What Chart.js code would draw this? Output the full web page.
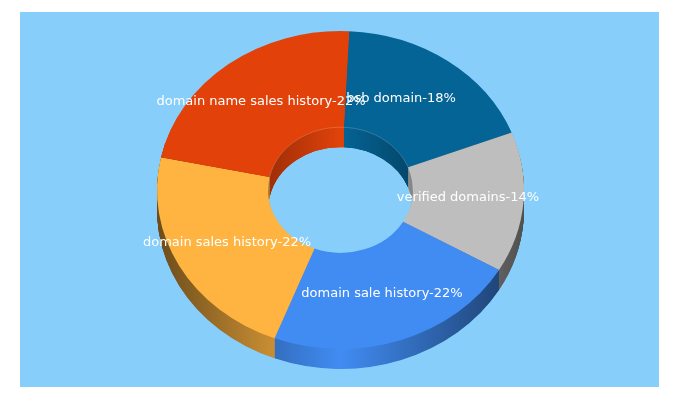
<!DOCTYPE html>
<html>
<head>
<meta charset="utf-8">
<title>Domain keywords</title>
<style>
  html, body { margin: 0; padding: 0; background: #fff; }
  canvas { display: block; }
</style>
<script src="https://cdn.jsdelivr.net/npm/chart.js@4/dist/chart.umd.min.js"></script>
</head>
<body>
<div style="width:680px;height:400px"><canvas id="donut" width="680" height="400"></canvas></div>
<script>
const categories = ['bsb domain', 'verified domains', 'domain sale history', 'domain sales history', 'domain name sales history'];
const shares = [18, 14, 22, 22, 22];
const sliceRgb = [[5, 100, 150], [190, 190, 190], [65, 140, 243], [255, 180, 65], [226, 66, 10]];
// middle of each label on the page
const labelSpots = [[401, 99], [468, 198], [382, 294], [227, 243], [261, 102]];

const TILT = 0.866;   // height / width of the ring on screen
const DEPTH = 20;     // wall height
const OUTER = 183.5;
const INNER = 72.5;

function shade(rgb, k) {
  return 'rgb(' + rgb.map((c) => Math.round(c * k)).join(',') + ')';
}

// walls darken towards the sides, brightest in the middle
function wallGradient(ctx, cx, r, rgb, edge) {
  const g = ctx.createLinearGradient(cx - r, 0, cx + r, 0);
  g.addColorStop(0, shade(rgb, edge));
  g.addColorStop(0.5, shade(rgb, 1));
  g.addColorStop(1, shade(rgb, edge));
  return g;
}

function tilt(ctx, cy, shift) {
  ctx.translate(0, cy + shift);
  ctx.scale(1, TILT);
  ctx.translate(0, -cy);
}

function drawWall(chart, r, edge) {
  const ctx = chart.ctx;
  const arcs = chart.getDatasetMeta(0).data;
  for (let d = DEPTH; d >= 1; d -= 0.5) {
    arcs.forEach((arc, i) => {
      const copy = Object.create(arc);
      copy.options = Object.assign({}, arc.options, {
        backgroundColor: wallGradient(ctx, arc.x, r, sliceRgb[i], edge),
        borderWidth: 0
      });
      ctx.save();
      tilt(ctx, arc.y, d);
      arc.constructor.prototype.draw.call(copy, ctx);
      ctx.restore();
    });
  }
}

const ring3d = {
  id: 'ring3d',
  beforeDraw(chart) {
    const ctx = chart.ctx;
    ctx.save();
    ctx.fillStyle = '#87cefa';
    ctx.fillRect(20, 12, 639, 375);
    ctx.restore();
  },
  beforeDatasetsDraw(chart) {
    const ctx = chart.ctx;
    const first = chart.getDatasetMeta(0).data[0];
    drawWall(chart, OUTER, 0.42);

    // inside of the hole gets its own shading
    ctx.save();
    ctx.beginPath();
    ctx.ellipse(first.x, first.y, INNER, INNER * TILT, 0, 0, Math.PI * 2);
    ctx.clip();
    drawWall(chart, INNER, 0.7);
    ctx.restore();

    ctx.save();
    tilt(ctx, first.y, 0);
  },
  afterDatasetsDraw(chart) {
    const ctx = chart.ctx;
    ctx.restore();
    const first = chart.getDatasetMeta(0).data[0];
    // thin light rim on the hole edge
    ctx.save();
    ctx.strokeStyle = 'rgba(255,255,255,0.18)';
    ctx.lineWidth = 1;
    ctx.beginPath();
    ctx.ellipse(first.x, first.y, INNER, INNER * TILT, 0, Math.PI, Math.PI * 2);
    ctx.stroke();
    ctx.restore();
  },
  afterDraw(chart) {
    const ctx = chart.ctx;
    ctx.save();
    ctx.fillStyle = '#fff';
    ctx.font = '13px "DejaVu Sans"';
    ctx.textAlign = 'center';
    ctx.textBaseline = 'middle';
    categories.forEach((name, i) => {
      ctx.fillText(name + '-' + shares[i] + '%', labelSpots[i][0], labelSpots[i][1]);
    });
    ctx.restore();
  }
};

new Chart(document.getElementById('donut'), {
  type: 'doughnut',
  data: {
    labels: categories,
    datasets: [{
      data: shares,
      backgroundColor: sliceRgb.map((c) => shade(c, 1)),
      borderWidth: 0,
      clip: false
    }]
  },
  options: {
    responsive: false,
    animation: false,
    rotation: 2.7,
    radius: OUTER,
    cutout: (INNER / OUTER * 100) + '%',
    layout: { padding: { left: 1, bottom: 20 } },
    events: [],
    plugins: { legend: { display: false }, tooltip: { enabled: false } }
  },
  plugins: [ring3d]
});
</script>
</body>
</html>
